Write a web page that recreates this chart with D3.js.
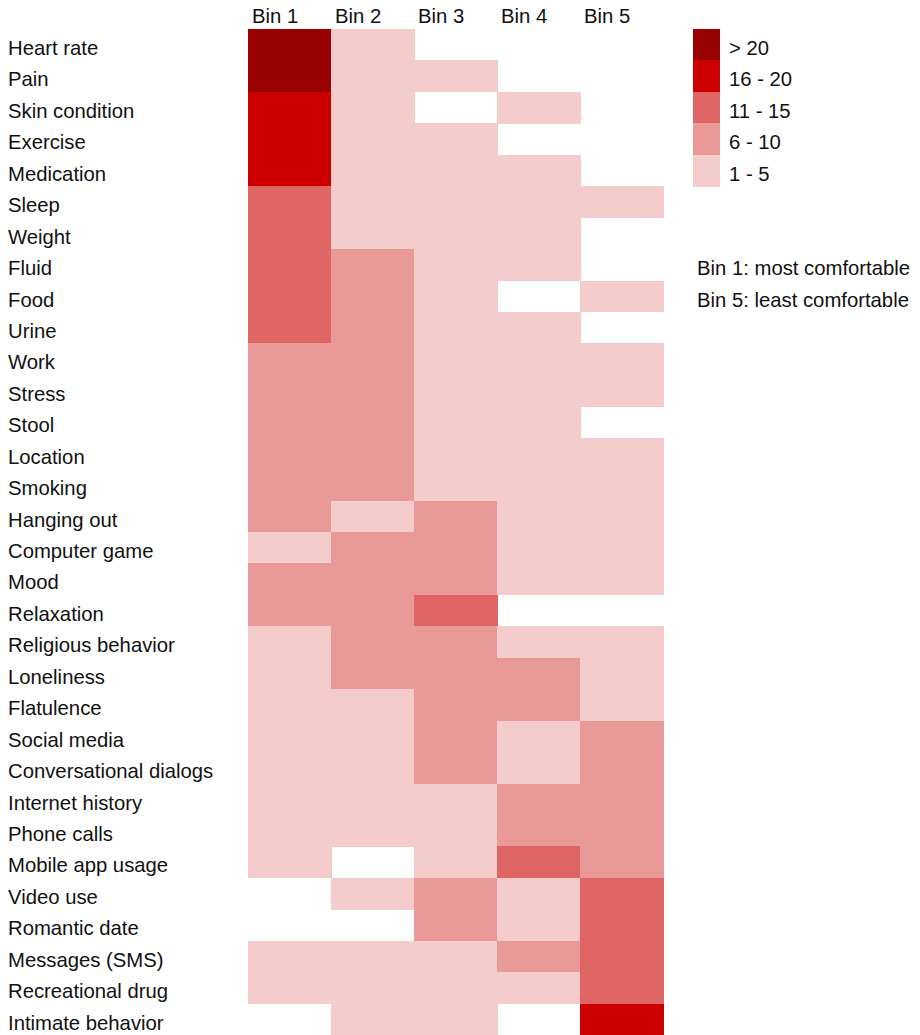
<!DOCTYPE html>
<html>
<head>
<meta charset="utf-8">
<script src="https://cdn.jsdelivr.net/npm/d3@7"></script>
<style>
  html, body { margin: 0; padding: 0; background: #fff; }
  svg { display: block; font-family: "Liberation Sans", Arial, sans-serif; }
</style>
</head>
<body>
<svg id="chart" width="920" height="1035"></svg>
<script>
const categories = [
  "Heart rate", "Pain", "Skin condition", "Exercise", "Medication", "Sleep",
  "Weight", "Fluid", "Food", "Urine", "Work", "Stress", "Stool", "Location",
  "Smoking", "Hanging out", "Computer game", "Mood", "Relaxation",
  "Religious behavior", "Loneliness", "Flatulence", "Social media",
  "Conversational dialogs", "Internet history", "Phone calls",
  "Mobile app usage", "Video use", "Romantic date", "Messages (SMS)",
  "Recreational drug", "Intimate behavior"
];
const bins = ["Bin 1", "Bin 2", "Bin 3", "Bin 4", "Bin 5"];

// Estimated counts per bin (0 = no responses); read from the colour class of each cell
const bin1 = [22, 22, 18, 18, 18, 13, 13, 13, 13, 13, 8, 8, 8, 8, 8, 8, 3, 8, 8, 3, 3, 3, 3, 3, 3, 3, 3, 0, 0, 3, 3, 0];
const bin2 = [3, 3, 3, 3, 3, 3, 3, 8, 8, 8, 8, 8, 8, 8, 8, 3, 8, 8, 8, 8, 8, 3, 3, 3, 3, 3, 0, 3, 0, 3, 3, 3];
const bin3 = [0, 3, 0, 3, 3, 3, 3, 3, 3, 3, 3, 3, 3, 3, 3, 8, 8, 8, 13, 8, 8, 8, 8, 8, 3, 3, 3, 8, 8, 3, 3, 3];
const bin4 = [0, 0, 3, 0, 3, 3, 3, 3, 0, 3, 3, 3, 3, 3, 3, 3, 3, 3, 0, 3, 8, 8, 3, 3, 8, 8, 13, 3, 3, 8, 3, 0];
const bin5 = [0, 0, 0, 0, 0, 3, 0, 0, 3, 0, 3, 3, 0, 3, 3, 3, 3, 3, 0, 3, 3, 3, 8, 8, 8, 8, 8, 13, 13, 13, 13, 18];

const legendLabels = ["> 20", "16 - 20", "11 - 15", "6 - 10", "1 - 5"];
const legendColors = ["#990000", "#cc0000", "#e06666", "#ea9999", "#f4cccc"];
const thresholds = [1, 6, 11, 16, 21];
const notes = ["Bin 1: most comfortable", "Bin 5: least comfortable"];

const series = [bin1, bin2, bin3, bin4, bin5];
const cells = [];
categories.forEach((c, i) => bins.forEach((b, j) => cells.push({cat: c, bin: b, v: series[j][i]})));

const svg = d3.select("#chart");

const x = d3.scaleBand().domain(bins).range([248, 663]);
const y = d3.scaleBand().domain(categories).range([29, 1035]);
const color = d3.scaleThreshold()
  .domain(thresholds)
  .range(["#ffffff"].concat(legendColors.slice().reverse()));

svg.append("g").selectAll("rect")
  .data(cells.filter(d => d.v > 0))
  .join("rect")
  .attr("x", d => x(d.bin))
  .attr("y", d => y(d.cat))
  .attr("width", x.bandwidth() + 0.5)
  .attr("height", y.bandwidth() + 0.5)
  .attr("fill", d => color(d.v))
  .attr("shape-rendering", "crispEdges");

const fs = 20.3;
const ink = "#111";
// Row labels
svg.append("g").selectAll("text")
  .data(categories)
  .join("text")
  .attr("x", 8)
  .attr("y", d => y(d) + 26)
  .attr("font-size", fs)
  .attr("fill", ink)
  .text(d => d);

// Column headers
svg.append("g").selectAll("text")
  .data(bins)
  .join("text")
  .attr("x", d => x(d) + 4)
  .attr("y", 23)
  .attr("font-size", fs)
  .attr("fill", ink)
  .text(d => d);

// Legend
const ly = d3.scaleBand().domain(legendLabels).range([29, 29 + 5 * y.bandwidth()]);
const lg = svg.append("g");
lg.selectAll("rect")
  .data(legendLabels)
  .join("rect")
  .attr("x", 693)
  .attr("y", d => ly(d))
  .attr("width", 27)
  .attr("height", ly.bandwidth() + 0.5)
  .attr("fill", (d, i) => legendColors[i])
  .attr("shape-rendering", "crispEdges");
lg.selectAll("text")
  .data(legendLabels)
  .join("text")
  .attr("x", 729)
  .attr("y", d => ly(d) + 26)
  .attr("font-size", fs)
  .attr("fill", ink)
  .text(d => d);

// Notes
svg.append("g").selectAll("text")
  .data(notes)
  .join("text")
  .attr("x", 697)
  .attr("y", (d, i) => y(categories[7 + i]) + 26)
  .attr("font-size", fs)
  .attr("fill", ink)
  .text(d => d);
</script>
</body>
</html>
